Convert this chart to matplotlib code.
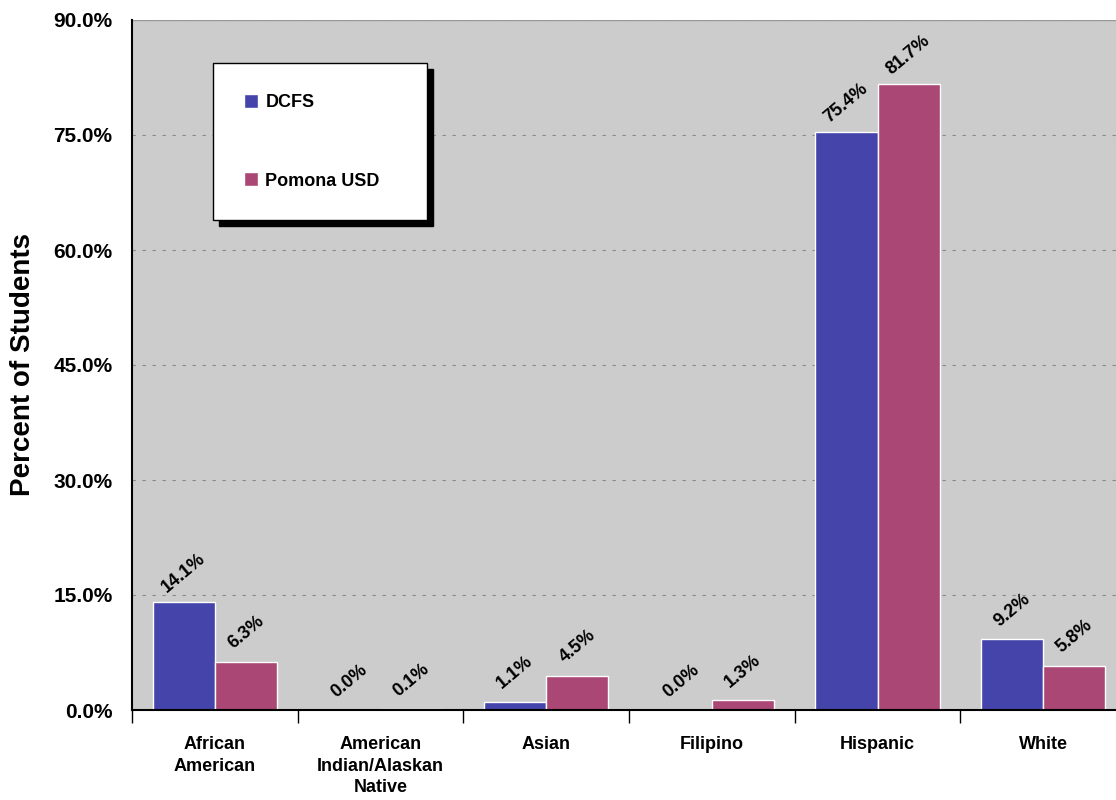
import matplotlib.pyplot as plt
import numpy as np

categories = ['African\nAmerican', 'American\nIndian/Alaskan\nNative', 'Asian',
              'Filipino', 'Hispanic', 'White']
dcfs = [14.1, 0.0, 1.1, 0.0, 75.4, 9.2]
pomona = [6.3, 0.1, 4.5, 1.3, 81.7, 5.8]
series_names = ['DCFS', 'Pomona USD']
y_ticks = [0, 15, 30, 45, 60, 75, 90]

plt.rcParams['font.family'] = ['Liberation Sans', 'DejaVu Sans']
plt.rcParams['font.weight'] = 'bold'

fig = plt.figure(figsize=(11.16, 8), dpi=100)
ax = fig.add_axes([132 / 1116, 90 / 800, 994 / 1116, 690 / 800])
ax.set_facecolor('#cccccc')

x = np.arange(len(categories))
w = 0.375
b1 = ax.bar(x - w / 2, dcfs, w, color='#4444aa', edgecolor='white', linewidth=1,
            label=series_names[0], zorder=3)
b2 = ax.bar(x + w / 2, pomona, w, color='#aa4774', edgecolor='white', linewidth=1,
            label=series_names[1], zorder=3)

for bars, vals in ((b1, dcfs), (b2, pomona)):
    for rect, v in zip(bars, vals):
        ax.annotate(f'{v:.1f}%', (rect.get_x() + rect.get_width() / 2, v),
                    xytext=(0, 29), textcoords='offset pixels',
                    ha='center', va='center', rotation=40,
                    fontsize=13, fontweight='bold', zorder=4)

ax.set_xlim(-0.5, len(categories) - 0.5)
ax.set_ylim(0, 90)
ax.set_yticks(y_ticks)
ax.set_yticklabels([f'{t:.1f}%' for t in y_ticks], fontsize=15, fontweight='bold')
ax.tick_params(axis='y', length=0, pad=14)

ax.set_xticks(x)
ax.set_xticklabels(categories, fontsize=13, fontweight='bold', linespacing=1.35)
ax.set_xticks(np.arange(-0.5, len(categories), 1), minor=True)
ax.tick_params(axis='x', which='major', length=0, pad=19)
ax.tick_params(axis='x', which='minor', length=9, width=1, direction='out')

ax.grid(axis='y', color='#888888', linestyle=(0, (3, 6)), linewidth=0.8, zorder=1)
ax.set_axisbelow(True)

for s in ['top', 'right']:
    ax.spines[s].set_visible(False)
for s in ['left', 'bottom']:
    ax.spines[s].set_color('black')
    ax.spines[s].set_linewidth(1.5)
    ax.spines[s].set_zorder(5)
ax.axhline(90, color='#999999', linewidth=1, zorder=2)

ax.set_ylabel('Percent of Students', fontsize=20, fontweight='bold')
ax.yaxis.set_label_coords(-0.097, 0.5)

leg = ax.legend(loc='upper left',
                bbox_to_anchor=((213 - 132) / 994, (710 - 70) / 690, 214 / 994, 0.01),
                mode='expand', fontsize=13, frameon=True, fancybox=False,
                edgecolor='black', facecolor='white', framealpha=1,
                handlelength=0.8, handleheight=0.8, handletextpad=0.4,
                borderpad=1.7, labelspacing=3.4, borderaxespad=0,
                shadow={'ox': 4, 'oy': -4, 'facecolor': 'black', 'edgecolor': 'black', 'alpha': 1})
leg.get_frame().set_linewidth(1)
for t in leg.get_texts():
    t.set_fontweight('bold')

fig.savefig('out.png', dpi=100)
